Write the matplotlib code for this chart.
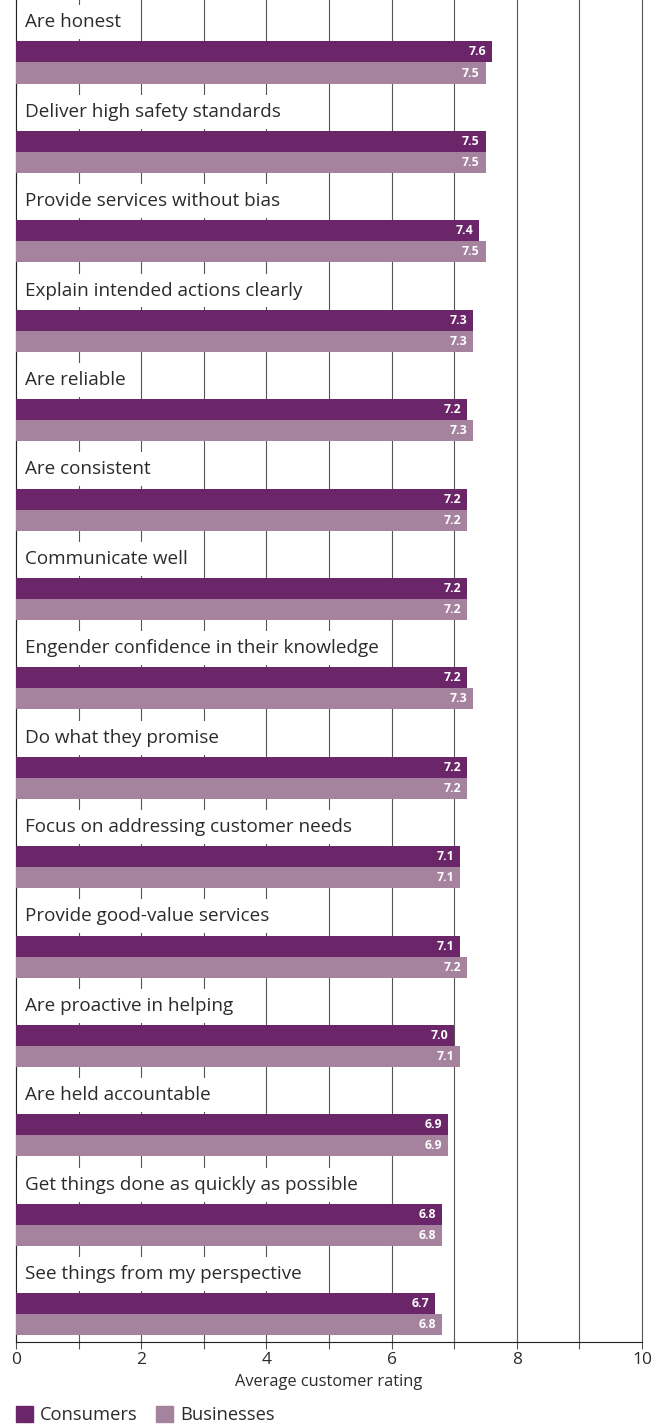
import matplotlib
matplotlib.use("Agg")
import matplotlib.pyplot as plt
from matplotlib.patches import Patch

# ── Data ─────────────────────────────────────────────────────────────────────
categories = [
    "Are honest",
    "Deliver high safety standards",
    "Provide services without bias",
    "Explain intended actions clearly",
    "Are reliable",
    "Are consistent",
    "Communicate well",
    "Engender confidence in their knowledge",
    "Do what they promise",
    "Focus on addressing customer needs",
    "Provide good-value services",
    "Are proactive in helping",
    "Are held accountable",
    "Get things done as quickly as possible",
    "See things from my perspective",
]
consumers  = [7.6, 7.5, 7.4, 7.3, 7.2, 7.2, 7.2, 7.2, 7.2, 7.1, 7.1, 7.0, 6.9, 6.8, 6.7]
businesses = [7.5, 7.5, 7.5, 7.3, 7.3, 7.2, 7.2, 7.3, 7.2, 7.1, 7.2, 7.1, 6.9, 6.8, 6.8]
x_ticks = list(range(0, 11))

# ── Style ────────────────────────────────────────────────────────────────────
C_CONS = "#6B2669"
C_BUS  = "#A5839F"
GRID   = "#555555"
TEXT   = "#2b2b2b"
plt.rcParams["font.family"] = ["Open Sans", "DejaVu Sans"]

BAR_H = 0.235

fig = plt.figure(figsize=(6.62, 14.24), dpi=100)
ax = fig.add_axes([16 / 662, 82 / 1424, 626 / 662, 1342 / 1424])

ypos = list(range(len(categories)))
ax.barh([y - BAR_H / 2 for y in ypos], consumers, height=BAR_H,
        color=C_CONS, zorder=3)
ax.barh([y + BAR_H / 2 for y in ypos], businesses, height=BAR_H,
        color=C_BUS, zorder=3)

# value labels inside bar ends
for y, c, b in zip(ypos, consumers, businesses):
    ax.text(c - 0.095, y - BAR_H / 2, f"{c:.1f}", ha="right", va="center",
            color="white", fontsize=8.8, fontweight="bold", zorder=4)
    ax.text(b - 0.095, y + BAR_H / 2, f"{b:.1f}", ha="right", va="center",
            color="white", fontsize=8.8, fontweight="bold", zorder=4)

# category labels above each pair, white box hides the grid behind them
for y, name in zip(ypos, categories):
    ax.text(0.14, y - 0.45, name, ha="left", va="center", fontsize=13.6,
            color=TEXT, zorder=2,
            bbox=dict(boxstyle="square,pad=0.42", fc="white", ec="none"))

ax.set_xlim(0, 10)
ax.set_ylim(14.31, -0.699)
ax.set_yticks([])
ax.set_xticks(x_ticks)
ax.set_xticklabels([str(t) if t % 2 == 0 else "" for t in x_ticks],
                   fontsize=12.5, color=TEXT)
ax.tick_params(axis="x", direction="out", length=5, width=0.8, color=GRID, pad=2.5)
ax.grid(axis="x", color=GRID, lw=0.8)
ax.set_axisbelow(True)
for gl in ax.get_xgridlines():
    gl.set_clip_on(False)

for side in ("top", "right"):
    ax.spines[side].set_visible(False)
ax.spines["left"].set_color("#222222")
ax.spines["bottom"].set_color("#222222")
ax.spines["left"].set_linewidth(0.8)
ax.spines["bottom"].set_linewidth(0.8)

ax.set_xlabel("Average customer rating", fontsize=11.8, color=TEXT, labelpad=4)

handles = [Patch(color=C_CONS, label="Consumers"),
           Patch(color=C_BUS, label="Businesses")]
fig.legend(handles=handles, loc="lower left", bbox_to_anchor=(16 / 662, 0.0),
           ncol=2, frameon=False, fontsize=13.2, handlelength=0.95,
           handleheight=0.95, handletextpad=0.35, columnspacing=1.0,
           borderaxespad=0, borderpad=0, labelcolor=TEXT)

fig.savefig("out.png", dpi=100)
